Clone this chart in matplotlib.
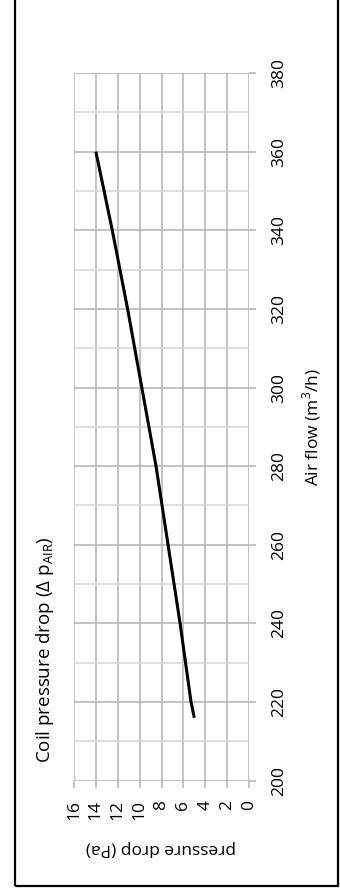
import matplotlib
matplotlib.use("Agg")
import matplotlib.pyplot as plt
from matplotlib.patches import Rectangle

plt.rcParams["font.family"] = ["Open Sans", "DejaVu Sans"]
plt.rcParams["mathtext.fontset"] = "custom"
plt.rcParams["mathtext.rm"] = "Open Sans"

# dados (curva de perda de carga da bateria)
air_flow = [216, 220, 240, 260, 280, 300, 320, 340, 360]
pressure_drop = [5.0, 5.3, 6.3, 7.4, 8.5, 9.8, 11.1, 12.5, 14.0]
flow_ticks = list(range(200, 381, 20))
flow_minor = list(range(200, 381, 10))
pressure_ticks = list(range(0, 17, 2))

W, H = 340, 890
fig = plt.figure(figsize=(W / 100, H / 100), dpi=100)

# gráfico girado 90 graus: vazão no eixo vertical, pressão no horizontal
ax = fig.add_axes([74 / W, (H - 780.7) / H, (249 - 74) / W, (780.7 - 73) / H])
ax.plot(pressure_drop, air_flow, color="black", lw=2.2, solid_capstyle="butt", zorder=3)

ax.set_xlim(16, 0)
ax.set_ylim(200, 380)
ax.set_xticks(pressure_ticks)
ax.set_yticks(flow_ticks)
ax.set_yticks(flow_minor, minor=True)

ax.grid(True, which="major", color="#b3b3b3", lw=1.1)
ax.grid(True, which="minor", axis="y", color="#d6d6d6", lw=1.1)
for s in ax.spines.values():
    s.set_visible(False)

ax.tick_params(axis="x", which="major", direction="out", length=5, width=1.1,
               color="#b3b3b3", pad=9, labelsize=12.5, labelrotation=90)
ax.tick_params(axis="y", which="major", direction="out", length=5, width=1.1,
               color="#b3b3b3", pad=11, labelsize=12.5, labelrotation=90,
               left=False, labelleft=False, right=True, labelright=True)
ax.tick_params(axis="y", which="minor", left=False, right=False)
for lab in ax.get_xticklabels():
    lab.set_va("top")
    lab.set_ha("center")
for lab in ax.get_yticklabels():
    lab.set_va("center")
    lab.set_ha("left")

# textos
fig.text(45 / W, (H - 650) / H, r"Coil pressure drop (Δ p$_{\mathrm{AIR}}$)",
         rotation=90, ha="center", va="center", fontsize=13.5)
fig.text(312 / W, (H - 427) / H, r"Air flow (m$^{3}$/h)",
         rotation=90, ha="center", va="center", fontsize=12.5)
fig.text(161 / W, (H - 848) / H, "pressure drop (Pa)",
         rotation=180, ha="center", va="center", fontsize=12.5)

# moldura
fig.patches.append(Rectangle((15 / W, 4.3 / H), (338 - 15) / W, 1.2,
                             transform=fig.transFigure, fill=False,
                             edgecolor="black", lw=1.6, clip_on=False))

fig.savefig("out.png", dpi=100, facecolor="white")
plt.close(fig)
